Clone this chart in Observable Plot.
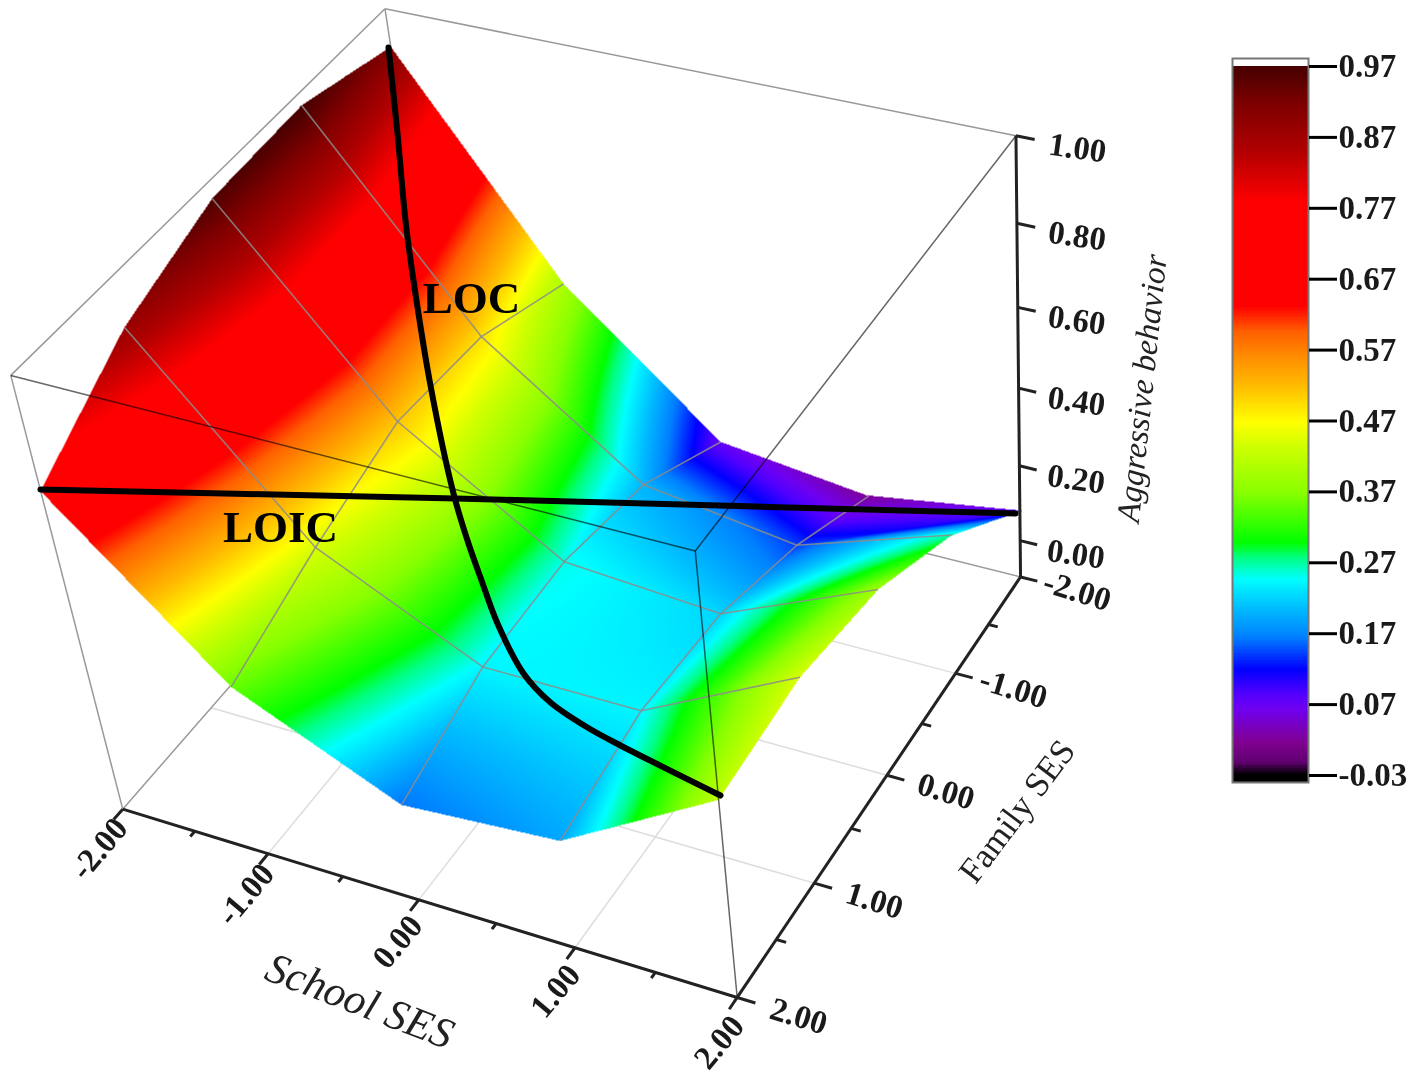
<!DOCTYPE html>
<html>
<head>
<meta charset="utf-8">
<script src="https://cdn.jsdelivr.net/npm/d3@7"></script>
<script src="https://cdn.jsdelivr.net/npm/@observablehq/plot@0.6"></script>
<style>
body { margin: 0; background: #fff; }
#chart { position: relative; width: 1417px; height: 1076px; }
#chart svg { filter: blur(0.6px); }
#bar { position: absolute; left: 1230px; top: 0; }
</style>
</head>
<body>
<div id="chart"><div id="bar"></div></div>
<script>
const schoolTicks = [-2, -1, 0, 1, 2]
const familyTicks = [-2, -1, 0, 1, 2]
const zTicks = [0, 0.2, 0.4, 0.6, 0.8, 1]
const zMin = -0.1
const zMax = 1
// aggressive behaviour, one row per family SES, one column per school SES
const aggressive = [
  [0.91, 0.40, 0.07, 0.02, 0.08],
  [0.97, 0.49, 0.20, 0.14, 0.27],
  [0.96, 0.51, 0.25, 0.22, 0.39],
  [0.88, 0.44, 0.24, 0.24, 0.44],
  [0.73, 0.35, 0.16, 0.19, 0.42],
]
// cells that fold along their diagonal instead of bending smoothly [row, col]
const foldedCells = ["0,3"]

const legendTicks = [-0.03, 0.07, 0.17, 0.27, 0.37, 0.47, 0.57, 0.67, 0.77, 0.87, 0.97]
const colorStops = [-0.03, -0.013, 0.015, 0.062, 0.085, 0.118, 0.164, 0.207, 0.245, 0.276, 0.297, 0.367, 0.43, 0.467, 0.518, 0.556, 0.594, 0.612, 0.63, 0.777, 0.85, 0.912, 0.965]
const colorRange = ["#000000", "#600070", "#800090", "#7000f0", "#5000ff", "#0000ff", "#0080ff", "#00c0ff", "#00ffff", "#00ff80", "#00ff00", "#88ff00", "#ccff00", "#ffff00", "#ffbb00", "#ff9000", "#ff6000", "#ff3000", "#ff0000", "#ff0000", "#b00000", "#800000", "#4a0000"]

// the two lines were drawn by hand over the figure, so they live in picture space
const locX = [388, 397, 405, 413, 430, 453, 467, 480, 497, 523, 550, 587, 620, 720]
const locY = [47, 133, 220, 280, 385, 493, 540, 577, 623, 673, 702, 727, 745, 795]
const loicX = [40, 455, 1015]
const loicY = [489, 498, 513]

// corners of the box as they land in the picture, used to fit the camera
const boxCorners = [
  [-2, -2, zMax, 385, 8], [2, -2, zMax, 1015, 135], [2, 2, zMax, 695, 550], [-2, 2, zMax, 10, 376],
  [2, -2, zMin, 1020, 577], [2, 2, zMin, 737, 997], [-2, 2, zMin, 122, 808],
]

function fitCamera(pts) {
  const n = 11, A = d3.range(n).map(() => new Array(n + 1).fill(0))
  const add = (row, rhs) => {
    for (let i = 0; i < n; i++) {
      for (let j = 0; j < n; j++) A[i][j] += row[i] * row[j]
      A[i][n] += row[i] * rhs
    }
  }
  for (const [s, f, z, x, y] of pts) {
    add([s, f, z, 1, 0, 0, 0, 0, -x * s, -x * f, -x * z], x)
    add([0, 0, 0, 0, s, f, z, 1, -y * s, -y * f, -y * z], y)
  }
  for (let i = 0; i < n; i++) {
    let m = i
    for (let k = i + 1; k < n; k++) if (Math.abs(A[k][i]) > Math.abs(A[m][i])) m = k
    ;[A[i], A[m]] = [A[m], A[i]]
    for (let k = 0; k < n; k++) {
      if (k == i) continue
      const r = A[k][i] / A[i][i]
      for (let j = i; j <= n; j++) A[k][j] -= r * A[i][j]
    }
  }
  return A.map((row, i) => row[n] / row[i])
}
const cam = fitCamera(boxCorners)
function project(s, f, z) {
  const w = cam[8] * s + cam[9] * f + cam[10] * z + 1
  return {
    x: (cam[0] * s + cam[1] * f + cam[2] * z + cam[3]) / w,
    y: (cam[4] * s + cam[5] * f + cam[6] * z + cam[7]) / w,
  }
}
function segment(a, b) {
  const p = project(...a), q = project(...b)
  return {x1: p.x, y1: p.y, x2: q.x, y2: q.y}
}

// surface vertices, family by school
const vertices = familyTicks.flatMap((f, r) => schoolTicks.map((s, c) => ({...project(s, f, aggressive[r][c]), v: aggressive[r][c]})))

// paints the mesh cells on the raster: each cell bends smoothly unless it is folded
function meshFill(index, w, h, X, Y, V) {
  const W = new Float64Array(w * h).fill(NaN)
  const nc = schoolTicks.length, nr = familyTicks.length
  const tri = (A, B, C) => {
    const x0 = Math.max(0, Math.floor(Math.min(A[0], B[0], C[0]))), x1 = Math.min(w - 1, Math.ceil(Math.max(A[0], B[0], C[0])))
    const y0 = Math.max(0, Math.floor(Math.min(A[1], B[1], C[1]))), y1 = Math.min(h - 1, Math.ceil(Math.max(A[1], B[1], C[1])))
    const d = (B[1] - C[1]) * (A[0] - C[0]) + (C[0] - B[0]) * (A[1] - C[1])
    if (!d) return
    for (let y = y0; y <= y1; y++) for (let x = x0; x <= x1; x++) {
      const l1 = ((B[1] - C[1]) * (x + 0.5 - C[0]) + (C[0] - B[0]) * (y + 0.5 - C[1])) / d
      const l2 = ((C[1] - A[1]) * (x + 0.5 - C[0]) + (A[0] - C[0]) * (y + 0.5 - C[1])) / d
      const l3 = 1 - l1 - l2
      if (l1 >= -0.01 && l2 >= -0.01 && l3 >= -0.01) W[y * w + x] = l1 * A[2] + l2 * B[2] + l3 * C[2]
    }
  }
  const steps = 12
  for (let r = 0; r < nr - 1; r++) for (let c = 0; c < nc - 1; c++) {
    const a = r * nc + c, b = a + 1, d = a + nc, e = d + 1
    const P = i => [X[i], Y[i], V[i]]
    if (foldedCells.includes(r + "," + c)) {
      tri(P(a), P(b), P(d))
      tri(P(b), P(e), P(d))
      continue
    }
    const at = (u, t) => [0, 1, 2].map(k => {
      const pa = P(a)[k], pb = P(b)[k], pd = P(d)[k], pe = P(e)[k]
      return (1 - t) * ((1 - u) * pa + u * pb) + t * ((1 - u) * pd + u * pe)
    })
    for (let i = 0; i < steps; i++) for (let j = 0; j < steps; j++) {
      const u0 = i / steps, u1 = (i + 1) / steps, t0 = j / steps, t1 = (j + 1) / steps
      tri(at(u0, t0), at(u1, t0), at(u0, t1))
      tri(at(u1, t0), at(u1, t1), at(u0, t1))
    }
  }
  return W
}

const colorScale = {type: "linear", domain: colorStops, range: colorRange, interpolate: "rgb", clamp: true}
const serif = "'Liberation Serif', serif"

// box edges behind the surface, box edges in front of it
const backEdges = [
  segment([-2, -2, zMax], [-2, -2, zMin]), segment([-2, 2, zMin], [-2, -2, zMin]), segment([2, -2, zMin], [-2, -2, zMin]),
  segment([-2, -2, zMax], [2, -2, zMax]), segment([-2, -2, zMax], [-2, 2, zMax]),
  segment([-2, 2, zMax], [-2, 2, zMin]),
]
const frontEdges = [
  segment([-2, 2, zMax], [2, 2, zMax]), segment([2, 2, zMax], [2, -2, zMax]), segment([2, 2, zMax], [2, 2, zMin]),
]
const floorGrid = [
  ...schoolTicks.slice(1, -1).map(s => segment([s, 2, zMin], [s, -2, zMin])),
  ...familyTicks.slice(1, -1).map(f => segment([2, f, zMin], [-2, f, zMin])),
]
const meshLines = [
  ...familyTicks.slice(1, -1).flatMap((f, r) => schoolTicks.slice(1).map((s, c) => segment([s - 1, f, aggressive[r + 1][c]], [s, f, aggressive[r + 1][c + 1]]))),
  ...schoolTicks.slice(1, -1).flatMap((s, c) => familyTicks.slice(1).map((f, r) => segment([s, f - 1, aggressive[r][c + 1]], [s, f, aggressive[r + 1][c + 1]]))),
]
const axisLines = [
  segment([-2, 2, zMin], [2, 2, zMin]), segment([2, 2, zMin], [2, -2, zMin]), segment([2, -2, zMin], [2, -2, zMax]),
]
const halves = [-2, -1.5, -1, -0.5, 0, 0.5, 1, 1.5, 2]
const axisTicks = [
  ...halves.map(s => segment([s, 2, zMin], [s, Number.isInteger(s) ? 2.1 : 2.05, zMin])),
  ...halves.map(f => segment([2, f, zMin], [Number.isInteger(f) ? 2.11 : 2.06, f, zMin])),
  ...zTicks.map(z => segment([2, -2, z], [2.11, -2, z])),
]
const fmt = d => d.toFixed(2)
const zLabels = zTicks.map(z => ({...project(2.36, -2, z), t: fmt(z)}))
const familyLabels = familyTicks.map(f => ({...project(2.37, f, zMin), t: fmt(f)}))
const schoolLabels = schoolTicks.map(s => ({...project(s + 0.06, 2.35, zMin), t: fmt(s)}))
const tickText = {x: "x", y: "y", text: "t", fontFamily: serif, fontWeight: "bold", fontSize: 33, fill: "#1a1a1a"}

let chart = Plot.plot({
  width: 1417,
  height: 1076,
  margin: 0,
  x: {domain: [0, 1417], range: [0, 1417], axis: null},
  y: {domain: [0, 1076], range: [0, 1076], axis: null},
  color: colorScale,
  style: {background: "none"},
  marks: [
    Plot.link(floorGrid, {x1: "x1", y1: "y1", x2: "x2", y2: "y2", stroke: "#ddd", strokeWidth: 1.5}),
    Plot.link(backEdges, {x1: "x1", y1: "y1", x2: "x2", y2: "y2", stroke: "#999", strokeWidth: 1.5}),
    Plot.raster(vertices, {x: "x", y: "y", fill: "v", interpolate: meshFill}),
    Plot.link(meshLines, {x1: "x1", y1: "y1", x2: "x2", y2: "y2", stroke: "#8c8c8c", strokeOpacity: 0.85, strokeWidth: 1.6}),
    Plot.link(frontEdges, {x1: "x1", y1: "y1", x2: "x2", y2: "y2", stroke: "#666", strokeWidth: 1.5, mixBlendMode: "multiply"}),
    Plot.link(axisLines, {x1: "x1", y1: "y1", x2: "x2", y2: "y2", stroke: "#222", strokeWidth: 3}),
    Plot.link(axisTicks, {x1: "x1", y1: "y1", x2: "x2", y2: "y2", stroke: "#222", strokeWidth: 3}),
    Plot.line(d3.zip(locX, locY), {stroke: "black", strokeWidth: 6, curve: "catmull-rom"}),
    Plot.line(d3.zip(loicX, loicY), {stroke: "black", strokeWidth: 6}),
    Plot.text(zLabels, {...tickText, rotate: 8}),
    Plot.text(familyLabels, {...tickText, rotate: 17}),
    Plot.text(schoolLabels, {...tickText, rotate: -50}),
    Plot.text(["School SES"], {...project(0.1, 2.85, zMin), text: d => d, fontFamily: serif, fontStyle: "italic", fontSize: 43, rotate: 21, fill: "#222"}),
    Plot.text(["Family SES"], {...project(2.81, 0, zMin), text: d => d, fontFamily: serif, fontSize: 35, rotate: -53, fill: "#222"}),
    Plot.text(["Aggressive behavior"], {...project(2.76, -2, 0.47), text: d => d, fontFamily: serif, fontStyle: "italic", fontSize: 33, rotate: -84, fill: "#222"}),
    Plot.text(["LOC"], {x: [471], y: [298], text: d => d, fontFamily: serif, fontWeight: "bold", fontSize: 45, fill: "black"}),
    Plot.text(["LOIC"], {x: [280], y: [527], text: d => d, fontFamily: serif, fontWeight: "bold", fontSize: 45, fill: "black"}),
  ],
})
d3.select('#chart').insert(() => chart, '#bar')

// colour bar, drawn on its own y scale
const ramp = d3.range(-0.03, 0.97, 0.002)
let bar = Plot.plot({
  width: 187,
  height: 1076,
  marginLeft: 2,
  marginRight: 109,
  marginTop: 58,
  marginBottom: 294,
  x: {domain: [0, 1], axis: null},
  y: {domain: [-0.03, 0.97], range: [775, 66], axis: null},
  color: colorScale,
  style: {background: "none"},
  marks: [
    Plot.rect(ramp, {x1: 0, x2: 1, y1: d => d, y2: d => d + 0.004, fill: d => d, shapeRendering: "crispEdges"}),
    Plot.rect([0.97], {x1: 0, x2: 1, y1: d => d, y2: d => d + 0.012, fill: "white", shapeRendering: "crispEdges"}),
    Plot.rect([-0.04], {x1: 0, x2: 1, y1: d => d, y2: d => d + 0.01, fill: "black"}),
    Plot.frame({stroke: "#777", strokeWidth: 2}),
    Plot.axisY(legendTicks, {anchor: "right", label: null, tickSize: 28, tickPadding: 2, strokeWidth: 3, fontSize: 33, fontWeight: "bold", fontFamily: serif, tickFormat: fmt, fill: "#1a1a1a"}),
  ],
})
d3.select('#bar').append(() => bar)
</script>
</body>
</html>
